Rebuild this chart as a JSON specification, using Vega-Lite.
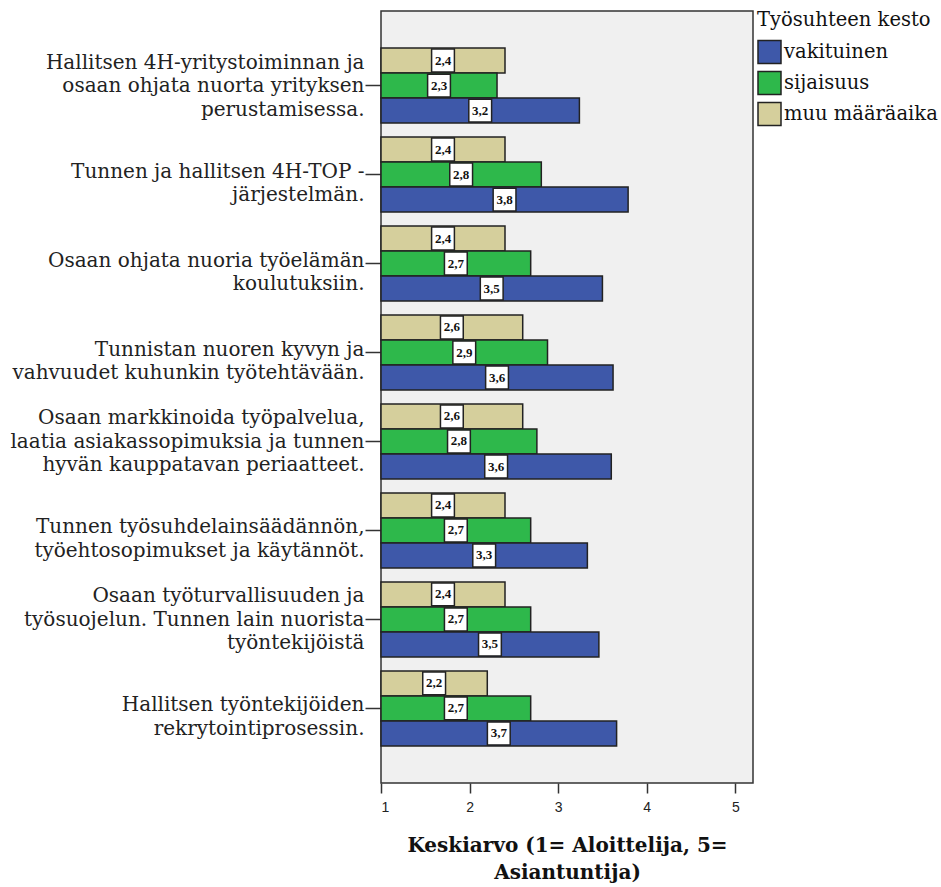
{
  "$schema": "https://vega.github.io/schema/vega-lite/v6.json",
  "autosize": "none",
  "width": 372,
  "height": 772,
  "padding": {"left": 381, "top": 11, "right": 188, "bottom": 104},
  "background": "white",
  "config": {
    "view": {"fill": "#f0f0f0", "stroke": "#333333", "strokeWidth": 1.5},
    "legend": {
      "titleFont": "DejaVu Serif",
      "titleFontSize": 19.5,
      "titleFontWeight": "normal",
      "titleColor": "#111111",
      "labelFont": "DejaVu Serif",
      "labelFontSize": 19.5,
      "labelColor": "#111111"
    }
  },
  "data": {
    "values": [
      {"kysymys": "Hallitsen 4H-yritystoiminnan ja|osaan ohjata nuorta yrityksen|perustamisessa.", "kesto": "muu määräaika", "arvo": 2.40},
      {"kysymys": "Hallitsen 4H-yritystoiminnan ja|osaan ohjata nuorta yrityksen|perustamisessa.", "kesto": "sijaisuus", "arvo": 2.31},
      {"kysymys": "Hallitsen 4H-yritystoiminnan ja|osaan ohjata nuorta yrityksen|perustamisessa.", "kesto": "vakituinen", "arvo": 3.24},
      {"kysymys": "Tunnen ja hallitsen 4H-TOP -|järjestelmän.", "kesto": "muu määräaika", "arvo": 2.40},
      {"kysymys": "Tunnen ja hallitsen 4H-TOP -|järjestelmän.", "kesto": "sijaisuus", "arvo": 2.81},
      {"kysymys": "Tunnen ja hallitsen 4H-TOP -|järjestelmän.", "kesto": "vakituinen", "arvo": 3.79},
      {"kysymys": "Osaan ohjata nuoria työelämän|koulutuksiin.", "kesto": "muu määräaika", "arvo": 2.40},
      {"kysymys": "Osaan ohjata nuoria työelämän|koulutuksiin.", "kesto": "sijaisuus", "arvo": 2.69},
      {"kysymys": "Osaan ohjata nuoria työelämän|koulutuksiin.", "kesto": "vakituinen", "arvo": 3.50},
      {"kysymys": "Tunnistan nuoren kyvyn ja|vahvuudet kuhunkin työtehtävään.", "kesto": "muu määräaika", "arvo": 2.60},
      {"kysymys": "Tunnistan nuoren kyvyn ja|vahvuudet kuhunkin työtehtävään.", "kesto": "sijaisuus", "arvo": 2.88},
      {"kysymys": "Tunnistan nuoren kyvyn ja|vahvuudet kuhunkin työtehtävään.", "kesto": "vakituinen", "arvo": 3.62},
      {"kysymys": "Osaan markkinoida työpalvelua,|laatia asiakassopimuksia ja tunnen|hyvän kauppatavan periaatteet.", "kesto": "muu määräaika", "arvo": 2.60},
      {"kysymys": "Osaan markkinoida työpalvelua,|laatia asiakassopimuksia ja tunnen|hyvän kauppatavan periaatteet.", "kesto": "sijaisuus", "arvo": 2.76},
      {"kysymys": "Osaan markkinoida työpalvelua,|laatia asiakassopimuksia ja tunnen|hyvän kauppatavan periaatteet.", "kesto": "vakituinen", "arvo": 3.60},
      {"kysymys": "Tunnen työsuhdelainsäädännön,|työehtosopimukset ja käytännöt.", "kesto": "muu määräaika", "arvo": 2.40},
      {"kysymys": "Tunnen työsuhdelainsäädännön,|työehtosopimukset ja käytännöt.", "kesto": "sijaisuus", "arvo": 2.69},
      {"kysymys": "Tunnen työsuhdelainsäädännön,|työehtosopimukset ja käytännöt.", "kesto": "vakituinen", "arvo": 3.33},
      {"kysymys": "Osaan työturvallisuuden ja|työsuojelun. Tunnen lain nuorista|työntekijöistä", "kesto": "muu määräaika", "arvo": 2.40},
      {"kysymys": "Osaan työturvallisuuden ja|työsuojelun. Tunnen lain nuorista|työntekijöistä", "kesto": "sijaisuus", "arvo": 2.69},
      {"kysymys": "Osaan työturvallisuuden ja|työsuojelun. Tunnen lain nuorista|työntekijöistä", "kesto": "vakituinen", "arvo": 3.46},
      {"kysymys": "Hallitsen työntekijöiden|rekrytointiprosessin.", "kesto": "muu määräaika", "arvo": 2.20},
      {"kysymys": "Hallitsen työntekijöiden|rekrytointiprosessin.", "kesto": "sijaisuus", "arvo": 2.69},
      {"kysymys": "Hallitsen työntekijöiden|rekrytointiprosessin.", "kesto": "vakituinen", "arvo": 3.66}
    ]
  },
  "transform": [
    {"calculate": "(1 + datum.arvo) / 2", "as": "keski"},
    {"calculate": "replace(format(datum.arvo, '.1f'), '.', ',')", "as": "teksti"}
  ],
  "encoding": {
    "y": {
      "field": "kysymys",
      "type": "nominal",
      "sort": null,
      "scale": {"paddingInner": 0.157, "paddingOuter": 0.416},
      "axis": {
        "title": null,
        "labelExpr": "split(datum.label, '|')",
        "labelFont": "DejaVu Serif",
        "labelFontSize": 20,
        "labelLineHeight": 23.5,
        "labelColor": "#222222",
        "labelLimit": 400,
        "labelPadding": 1,
        "labelOffset": {"condition": {"test": "length(split(datum.value, '|')) > 2", "value": -23}, "value": -3},
        "tickSize": 16,
        "tickColor": "#333333",
        "tickWidth": 1.5,
        "domain": false
      }
    },
    "yOffset": {
      "field": "kesto",
      "type": "nominal",
      "sort": ["muu määräaika", "sijaisuus", "vakituinen"],
      "scale": {"paddingInner": 0, "paddingOuter": 0}
    }
  },
  "layer": [
    {
      "mark": {"type": "bar", "stroke": "#222222", "strokeWidth": 1.5},
      "encoding": {
        "x": {
          "field": "arvo",
          "type": "quantitative",
          "scale": {"domain": [1, 5.2], "nice": false, "zero": false},
          "axis": {
            "values": [1, 2, 3, 4, 5],
            "format": "d",
            "grid": false,
            "domain": false,
            "tickSize": 10,
            "tickColor": "#333333",
            "tickWidth": 1.5,
            "labelFont": "Liberation Sans",
            "labelFontSize": 14,
            "labelColor": "#222222",
            "labelPadding": 7,
            "title": ["Keskiarvo (1= Aloittelija, 5=", "Asiantuntija)"],
            "titleFont": "DejaVu Serif",
            "titleFontSize": 20,
            "titleFontWeight": "bold",
            "titleColor": "#111111",
            "titleLineHeight": 27,
            "titlePadding": 21
          }
        },
        "x2": {"datum": 1},
        "color": {
          "field": "kesto",
          "type": "nominal",
          "scale": {
            "domain": ["vakituinen", "sijaisuus", "muu määräaika"],
            "range": ["#3e58a9", "#2eb84b", "#d5cf9c"]
          },
          "legend": {
            "title": "Työsuhteen kesto",
            "orient": "right",
            "offset": 4,
            "titlePadding": 9,
            "labelOffset": 2,
            "symbolType": "square",
            "symbolSize": 529,
            "symbolStrokeColor": "#222222",
            "symbolStrokeWidth": 1.5,
            "symbolOpacity": 1,
            "rowPadding": 2,
            "padding": 0
          }
        }
      }
    },
    {
      "mark": {"type": "point", "shape": "square", "filled": true, "color": "white", "stroke": "#222222", "strokeWidth": 1.5, "opacity": 1, "size": 520},
      "encoding": {
        "x": {"field": "keski", "type": "quantitative"}
      }
    },
    {
      "mark": {"type": "text", "font": "Liberation Serif", "fontSize": 13, "fontWeight": "bold", "color": "#111111", "align": "center", "baseline": "middle"},
      "encoding": {
        "x": {"field": "keski", "type": "quantitative"},
        "text": {"field": "teksti"}
      }
    }
  ]
}
